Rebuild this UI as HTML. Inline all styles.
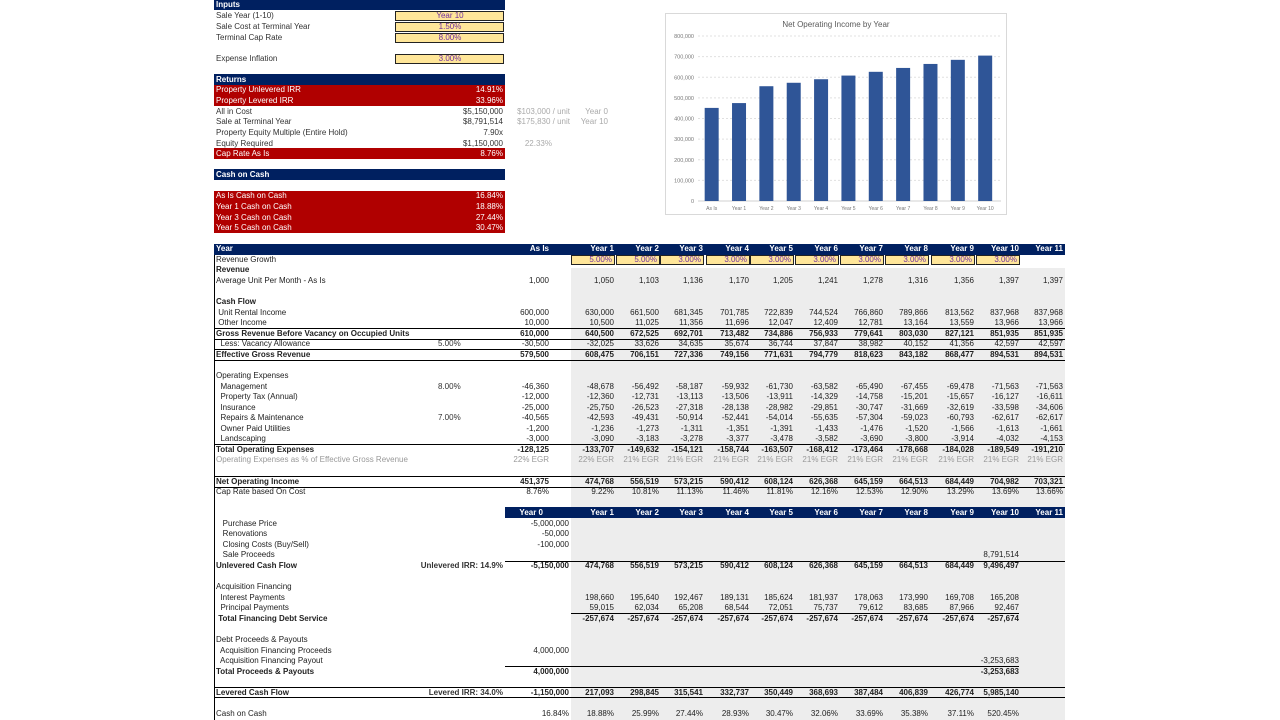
<!DOCTYPE html>
<html><head><meta charset="utf-8">
<style>
body{margin:0;width:1280px;height:720px;background:#fff;position:relative;overflow:hidden;font-family:"Liberation Sans",Arial,sans-serif;font-size:8px;color:#333}
.a{position:absolute;white-space:pre;line-height:10px}
.bx{position:absolute}
</style></head>
<body>
<div id="root"></div>
<svg id="chart" width="342" height="202" style="position:absolute;left:665px;top:13px" xmlns="http://www.w3.org/2000/svg"></svg>
<script>
const chartCats=["As Is","Year 1","Year 2","Year 3","Year 4","Year 5","Year 6","Year 7","Year 8","Year 9","Year 10"];
const chartNoi=[451375,474768,556519,573215,590412,608124,626368,645159,664513,684449,704982];
const chartTicks=[0,100000,200000,300000,400000,500000,600000,700000,800000];

const colHeads=["As Is","Year 1","Year 2","Year 3","Year 4","Year 5","Year 6","Year 7","Year 8","Year 9","Year 10","Year 11"];
const lowHeads=["Year 0","Year 1","Year 2","Year 3","Year 4","Year 5","Year 6","Year 7","Year 8","Year 9","Year 10","Year 11"];
const upperRows=[
 [260,"Revenue Growth","",["","5.00%","5.00%","3.00%","3.00%","3.00%","3.00%","3.00%","3.00%","3.00%","3.00%",""],"y"],
 [270,"Revenue","",[],"b"],
 [281,"Average Unit Per Month - As Is","",["1,000","1,050","1,103","1,136","1,170","1,205","1,241","1,278","1,316","1,356","1,397","1,397"],""],
 [302,"Cash Flow","",[],"b"],
 [313," Unit Rental Income","",["600,000","630,000","661,500","681,345","701,785","722,839","744,524","766,860","789,866","813,562","837,968","837,968"],""],
 [323," Other Income","",["10,000","10,500","11,025","11,356","11,696","12,047","12,409","12,781","13,164","13,559","13,966","13,966"],""],
 [334,"Gross Revenue Before Vacancy on Occupied Units","",["610,000","640,500","672,525","692,701","713,482","734,886","756,933","779,641","803,030","827,121","851,935","851,935"],"b"],
 [344,"  Less: Vacancy Allowance","5.00%",["-30,500","-32,025","33,626","34,635","35,674","36,744","37,847","38,982","40,152","41,356","42,597","42,597"],""],
 [355,"Effective Gross Revenue","",["579,500","608,475","706,151","727,336","749,156","771,631","794,779","818,623","843,182","868,477","894,531","894,531"],"b"],
 [376,"Operating Expenses","",[],""],
 [387,"  Management","8.00%",["-46,360","-48,678","-56,492","-58,187","-59,932","-61,730","-63,582","-65,490","-67,455","-69,478","-71,563","-71,563"],""],
 [397,"  Property Tax (Annual)","",["-12,000","-12,360","-12,731","-13,113","-13,506","-13,911","-14,329","-14,758","-15,201","-15,657","-16,127","-16,611"],""],
 [408,"  Insurance","",["-25,000","-25,750","-26,523","-27,318","-28,138","-28,982","-29,851","-30,747","-31,669","-32,619","-33,598","-34,606"],""],
 [418,"  Repairs & Maintenance","7.00%",["-40,565","-42,593","-49,431","-50,914","-52,441","-54,014","-55,635","-57,304","-59,023","-60,793","-62,617","-62,617"],""],
 [429,"  Owner Paid Utilities","",["-1,200","-1,236","-1,273","-1,311","-1,351","-1,391","-1,433","-1,476","-1,520","-1,566","-1,613","-1,661"],""],
 [439,"  Landscaping","",["-3,000","-3,090","-3,183","-3,278","-3,377","-3,478","-3,582","-3,690","-3,800","-3,914","-4,032","-4,153"],""],
 [450,"Total Operating Expenses","",["-128,125","-133,707","-149,632","-154,121","-158,744","-163,507","-168,412","-173,464","-178,668","-184,028","-189,549","-191,210"],"b"],
 [460,"Operating Expenses as % of Effective Gross Revenue","",["22% EGR","22% EGR","21% EGR","21% EGR","21% EGR","21% EGR","21% EGR","21% EGR","21% EGR","21% EGR","21% EGR","21% EGR"],"g"],
 [482,"Net Operating Income","",["451,375","474,768","556,519","573,215","590,412","608,124","626,368","645,159","664,513","684,449","704,982","703,321"],"b"],
 [492,"Cap Rate based On Cost","",["8.76%","9.22%","10.81%","11.13%","11.46%","11.81%","12.16%","12.53%","12.90%","13.29%","13.69%","13.66%"],""]
];
const lowerRows=[
 [524,"   Purchase Price","",["-5,000,000"],""],
 [534,"   Renovations","",["-50,000"],""],
 [545,"   Closing Costs (Buy/Sell)","",["-100,000"],""],
 [555,"   Sale Proceeds","",["","","","","","","","","","","8,791,514"],""],
 [566,"Unlevered Cash Flow","Unlevered IRR: 14.9%",["-5,150,000","474,768","556,519","573,215","590,412","608,124","626,368","645,159","664,513","684,449","9,496,497"],"b"],
 [587,"Acquisition Financing","",[],""],
 [598,"  Interest Payments","",["","198,660","195,640","192,467","189,131","185,624","181,937","178,063","173,990","169,708","165,208"],""],
 [608,"  Principal Payments","",["","59,015","62,034","65,208","68,544","72,051","75,737","79,612","83,685","87,966","92,467"],""],
 [619," Total Financing Debt Service","",["","-257,674","-257,674","-257,674","-257,674","-257,674","-257,674","-257,674","-257,674","-257,674","-257,674"],"b"],
 [640,"Debt Proceeds & Payouts","",[],""],
 [651,"  Acquisition Financing Proceeds","",["4,000,000"],""],
 [661,"  Acquisition Financing Payout","",["","","","","","","","","","","-3,253,683"],""],
 [672,"Total Proceeds & Payouts","",["4,000,000","","","","","","","","","","-3,253,683"],"b"],
 [693,"Levered Cash Flow","Levered IRR: 34.0%",["-1,150,000","217,093","298,845","315,541","332,737","350,449","368,693","387,484","406,839","426,774","5,985,140"],"b"],
 [714,"Cash on Cash","",["16.84%","18.88%","25.99%","27.44%","28.93%","30.47%","32.06%","33.69%","35.38%","37.11%","520.45%"],""]
];
const colRight=[549,614,659,703,749,793,838,883,928,974,1019,1063];

const R=document.getElementById('root');
function box(x,y,w,h,bg,extra){const d=document.createElement('div');d.className='bx';d.style.cssText=`left:${x}px;top:${y}px;width:${w}px;height:${h}px;background:${bg};${extra||''}`;R.appendChild(d);return d;}
function txt(x,y,s,opt){opt=opt||{};const d=document.createElement('div');d.className='a';d.textContent=s;
 let css=`top:${y-5}px;color:${opt.c||'#333'};font-weight:${opt.b?'bold':'normal'};`;
 if(opt.r!==undefined){css+=`right:${1280-opt.r}px;`;}else if(opt.cx!==undefined){css+=`left:${opt.cx-40}px;width:80px;text-align:center;`;}else css+=`left:${x}px;`;
 d.style.cssText=css;R.appendChild(d);return d;}

let g=box(571,268,494,452,'#ededed');


box(214,244,1,476,'#000');

let h1=box(214,0,291,10,'#002060');


txt(216,5,'Inputs',{c:'#fff',b:1});
const inputs=[[16,'Sale Year (1-10)','Year 10'],[27,'Sale Cost at Terminal Year','1.50%'],[38,'Terminal Cap Rate','8.00%'],[59,'Expense Inflation','3.00%']];
inputs.forEach(r=>{txt(216,r[0],r[1]);let c=box(395,r[0]-5,109,10,'#ffe699','border:1px solid #222;box-sizing:border-box');


txt(0,r[0],r[2],{cx:450,c:'#7030a0'});});
let h2=box(214,74,291,11,'#002060');


txt(216,80,'Returns',{c:'#fff',b:1});
box(214,85,291,21,'#b00000');
txt(216,90,'Property Unlevered IRR',{c:'#fff'});txt(0,90,'14.91%',{r:503,c:'#fff'});
txt(216,101,'Property Levered IRR',{c:'#fff'});txt(0,101,'33.96%',{r:503,c:'#fff'});
[[112,'All in Cost','$5,150,000','$103,000 / unit','Year 0'],[122,'Sale at Terminal Year','$8,791,514','$175,830 / unit','Year 10'],[133,'Property Equity Multiple (Entire Hold)','7.90x','',''],[144,'Equity Required','$1,150,000','22.33%','']].forEach(r=>{
 txt(216,r[0],r[1]);txt(0,r[0],r[2],{r:503});if(r[3])txt(0,r[0],r[3],{r:r[4]?570:552,c:'#aaa'});if(r[4])txt(0,r[0],r[4],{r:608,c:'#aaa'});});
box(214,148,291,11,'#b00000');
txt(216,154,'Cap Rate As Is',{c:'#fff'});txt(0,154,'8.76%',{r:503,c:'#fff'});
let h3=box(214,169,291,11,'#002060');


txt(216,175,'Cash on Cash',{c:'#fff',b:1});
box(214,191,291,42,'#b00000');
[[196,'As Is Cash on Cash','16.84%'],[207,'Year 1 Cash on Cash','18.88%'],[218,'Year 3 Cash on Cash','27.44%'],[228,'Year 5 Cash on Cash','30.47%']].forEach(r=>{txt(216,r[0],r[1],{c:'#fff'});txt(0,r[0],r[2],{r:503,c:'#fff'});});

let th=box(214,244,851,11,'#002060');


txt(216,249,'Year',{c:'#fff',b:1});
colHeads.forEach((h,i)=>txt(0,249,h,{r:colRight[i],c:'#fff',b:1}));
upperRows.forEach(r=>{
 const [y,l,p,vals,st]=r;
 txt(216,y,l,{b:st==='b',c:st==='g'?'#999':'#222'});
 if(p)txt(438,y,p);
 vals.forEach((v,i)=>{if(st==='y'&&v){box(colRight[i]-43,y-5,44,10,'#ffe699','border:1px solid #222;box-sizing:border-box');txt(0,y,v,{r:colRight[i]-2,c:'#7030a0'});}
 else if(v)txt(0,y,v,{r:colRight[i],b:st==='b',c:st==='g'?'#999':'#222'});});
});
[328,339,349,360,444,476,487].forEach(y=>box(214,y,851,1,'#000'));

let lh=box(505,507,560,11,'#002060');


lowHeads.forEach((h,i)=>txt(0,513,h,{r:colRight[i]-6*(i===0),c:'#fff',b:1}));
lowerRows.forEach(r=>{
 const [y,l,p,vals,st]=r;
 txt(216,y,l,{b:st==='b',c:'#222'});
 if(p)txt(0,y,p,{r:503,b:1});
 vals.forEach((v,i)=>{if(v)txt(0,y,v,{r:colRight[i]+(i===0?20:0),b:st==='b',c:'#222'});});
});
box(505,561,560,1,'#000');box(571,613,448,1,'#000');box(505,666,514,1,'#000');
box(214,687,851,1,'#000');box(214,697,851,1,'#000');

const S=document.getElementById('chart');const NS='http://www.w3.org/2000/svg';
function el(t,a){const e=document.createElementNS(NS,t);for(const k in a)e.setAttribute(k,a[k]);S.appendChild(e);return e;}
el('rect',{x:0.5,y:0.5,width:341,height:201,fill:'#fff',stroke:'#d9d9d9'});
const y0=188,yTop=23,maxV=800000;
const yS=v=>y0-(v/maxV)*(y0-yTop);
const x0=33,step=27.35;const xS=i=>x0+step*(i+0.5);
let tt=el('text',{x:171,y:14,'text-anchor':'middle','font-size':'8','fill':'#595959','font-family':'Liberation Sans'});tt.textContent='Net Operating Income by Year';


chartTicks.forEach(v=>{el('line',{x1:x0,x2:336,y1:yS(v),y2:yS(v),stroke:v?'#e0e0e0':'#d0d0d0','stroke-dasharray':v?'2,2':''});
 let t=el('text',{x:29,y:yS(v)+2,'text-anchor':'end','font-size':'5.5','fill':'#777','font-family':'Liberation Sans'});t.textContent=v.toLocaleString('en-US');
 
 });
chartNoi.forEach((v,i)=>{let b=el('rect',{x:xS(i)-7,y:yS(v),width:14,height:y0-yS(v),fill:'#2f5597'});
 
 
 let t=el('text',{x:xS(i),y:197,'text-anchor':'middle','font-size':'5','fill':'#777','font-family':'Liberation Sans'});t.textContent=chartCats[i];
 
 });
</script>
</body></html>
